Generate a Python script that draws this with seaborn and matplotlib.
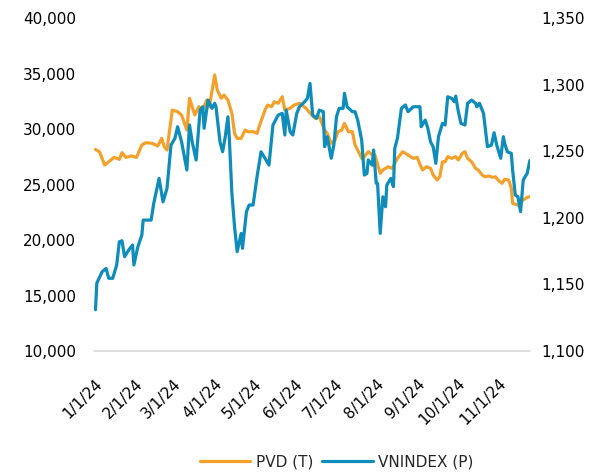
import numpy as np
import pandas as pd
import seaborn as sns
import matplotlib
matplotlib.use("Agg")
import matplotlib.pyplot as plt
import matplotlib.dates as mdates
from matplotlib.ticker import FuncFormatter

# PVD close price (left axis)
pvd_dates = ["2024-01-02", "2024-01-05", "2024-01-09", "2024-01-12", "2024-01-16", "2024-01-20",
             "2024-01-22", "2024-01-25", "2024-01-29", "2024-02-02", "2024-02-06", "2024-02-09",
             "2024-02-14", "2024-02-18", "2024-02-21", "2024-02-23", "2024-02-25", "2024-02-28",
             "2024-02-29", "2024-03-04", "2024-03-07", "2024-03-11", "2024-03-13", "2024-03-17",
             "2024-03-20", "2024-03-23", "2024-03-26", "2024-03-28", "2024-04-01", "2024-04-03",
             "2024-04-06", "2024-04-08", "2024-04-11", "2024-04-14", "2024-04-16", "2024-04-18",
             "2024-04-21", "2024-04-24", "2024-04-26", "2024-04-30", "2024-05-03", "2024-05-05",
             "2024-05-09", "2024-05-11", "2024-05-14", "2024-05-16", "2024-05-19", "2024-05-22",
             "2024-05-24", "2024-05-28", "2024-05-31", "2024-06-04", "2024-06-09", "2024-06-12",
             "2024-06-16", "2024-06-19", "2024-06-23", "2024-06-25", "2024-06-28", "2024-07-01",
             "2024-07-03", "2024-07-06", "2024-07-08", "2024-07-11", "2024-07-14", "2024-07-16",
             "2024-07-18", "2024-07-21", "2024-07-23", "2024-07-26", "2024-07-29", "2024-07-31",
             "2024-08-04", "2024-08-06", "2024-08-10", "2024-08-13", "2024-08-15", "2024-08-17",
             "2024-08-21", "2024-08-25", "2024-08-29", "2024-09-01", "2024-09-03", "2024-09-05",
             "2024-09-08", "2024-09-11", "2024-09-13", "2024-09-16", "2024-09-18", "2024-09-20",
             "2024-09-22", "2024-09-24", "2024-09-27", "2024-09-30", "2024-10-02", "2024-10-05",
             "2024-10-07", "2024-10-09", "2024-10-12", "2024-10-15", "2024-10-17", "2024-10-20",
             "2024-10-22", "2024-10-25", "2024-10-28", "2024-10-30", "2024-11-01", "2024-11-04",
             "2024-11-06", "2024-11-09", "2024-11-11", "2024-11-12", "2024-11-16", "2024-11-18",
             "2024-11-20", "2024-11-23", "2024-11-25"]
pvd_values = [28170, 27950, 26760, 27050, 27450, 27270,
              27870, 27450, 27570, 27450, 28560, 28770,
              28710, 28470, 29160, 28410, 28110, 30810,
              31710, 31560, 31260, 29910, 32770, 31260,
              32010, 31710, 32610, 32010, 34870, 33510,
              32770, 33060, 32610, 31420, 29610, 29160,
              29160, 29910, 29760, 29760, 29610, 30360,
              31710, 32160, 32010, 32460, 32320, 32910,
              31710, 31870, 32160, 32320, 31870, 31420,
              30960, 31110, 29910, 29610, 28710, 29010,
              29760, 29910, 30510, 29760, 29760, 28560,
              28110, 27360, 27510, 27960, 27660, 27660,
              26010, 26310, 26600, 26460, 26910, 27360,
              27960, 27660, 27360, 27450, 26800, 26310,
              26600, 26460, 25860, 25410, 25700, 27050,
              27050, 27510, 27360, 27510, 27210, 27810,
              27960, 27360, 27050, 26460, 26310, 25860,
              25700, 25770, 25650, 25700, 25410, 25110,
              25470, 25410, 24660, 23310, 23150, 23450,
              23600, 23850, 23900]

# VN-Index (right axis)
vni_dates = ["2024-01-02", "2024-01-03", "2024-01-07", "2024-01-10", "2024-01-12", "2024-01-15",
             "2024-01-18", "2024-01-20", "2024-01-22", "2024-01-24", "2024-01-27", "2024-01-30",
             "2024-01-31", "2024-02-03", "2024-02-06", "2024-02-07", "2024-02-13", "2024-02-15",
             "2024-02-19", "2024-02-22", "2024-02-25", "2024-02-28", "2024-03-02", "2024-03-04",
             "2024-03-07", "2024-03-11", "2024-03-13", "2024-03-15", "2024-03-18", "2024-03-21",
             "2024-03-23", "2024-03-24", "2024-03-27", "2024-03-30", "2024-04-01", "2024-04-02",
             "2024-04-05", "2024-04-07", "2024-04-09", "2024-04-11", "2024-04-12", "2024-04-14",
             "2024-04-16", "2024-04-18", "2024-04-21", "2024-04-22", "2024-04-25", "2024-04-27",
             "2024-04-30", "2024-05-03", "2024-05-06", "2024-05-09", "2024-05-12", "2024-05-15",
             "2024-05-19", "2024-05-22", "2024-05-24", "2024-05-25", "2024-05-28", "2024-05-30",
             "2024-06-02", "2024-06-04", "2024-06-08", "2024-06-10", "2024-06-12", "2024-06-14",
             "2024-06-17", "2024-06-19", "2024-06-22", "2024-06-23", "2024-06-25", "2024-06-28",
             "2024-06-30", "2024-07-02", "2024-07-04", "2024-07-07", "2024-07-08", "2024-07-10",
             "2024-07-14", "2024-07-16", "2024-07-18", "2024-07-21", "2024-07-23", "2024-07-25",
             "2024-07-26", "2024-07-29", "2024-07-30", "2024-08-01", "2024-08-02", "2024-08-04",
             "2024-08-06", "2024-08-08", "2024-08-09", "2024-08-12", "2024-08-14", "2024-08-15",
             "2024-08-17", "2024-08-20", "2024-08-23", "2024-08-25", "2024-08-29", "2024-09-01",
             "2024-09-03", "2024-09-04", "2024-09-07", "2024-09-09", "2024-09-11", "2024-09-13",
             "2024-09-15", "2024-09-17", "2024-09-20", "2024-09-22", "2024-09-24", "2024-09-27",
             "2024-09-29", "2024-09-30", "2024-10-02", "2024-10-04", "2024-10-07", "2024-10-09",
             "2024-10-12", "2024-10-15", "2024-10-16", "2024-10-18", "2024-10-21", "2024-10-24",
             "2024-10-27", "2024-10-29", "2024-10-31", "2024-11-03", "2024-11-05", "2024-11-06",
             "2024-11-08", "2024-11-11", "2024-11-12", "2024-11-14", "2024-11-16", "2024-11-18",
             "2024-11-20", "2024-11-23", "2024-11-25"]
vni_values = [1131, 1151, 1159.5, 1162, 1154.6, 1154.6,
              1164.6, 1182, 1182.8, 1170.8, 1175.8, 1179.6,
              1164.6, 1178.3, 1187, 1198.3, 1198.3, 1210.9,
              1229.6, 1212, 1222.1, 1254.6, 1259.7, 1268.4,
              1257.1, 1235.9, 1269.7, 1257.1, 1243.4, 1280.9,
              1283.4, 1267.2, 1288.4, 1282.2, 1286, 1283.4,
              1257.1, 1249.6, 1260.9, 1275.9, 1260.9, 1218.4,
              1193.3, 1174.6, 1188.3, 1177.1, 1204.6, 1209.6,
              1209.6, 1230.9, 1249.6, 1244.7, 1239.6, 1269.7,
              1277.2, 1278.4, 1262.2, 1280.9, 1264.6, 1262.2,
              1278.4, 1283.4, 1287.2, 1289.7, 1301, 1277.2,
              1274.7, 1280.9, 1279.7, 1253.4, 1260.9, 1244.7,
              1254.6, 1275.9, 1282.2, 1282.2, 1293.5, 1283.4,
              1279.7, 1279.7, 1273.4, 1258.4, 1232.1, 1233.4,
              1243.4, 1239.6, 1250.9, 1225.9, 1225.9, 1188.3,
              1215.8, 1208.3, 1224.6, 1229.6, 1223.4, 1252.2,
              1259.7, 1282.2, 1284.7, 1279.7, 1283.4, 1283.4,
              1283.4, 1268.4, 1273.4, 1267.2, 1257.1, 1253.4,
              1240.9, 1260.9, 1270.9, 1269.7, 1290.9, 1289.7,
              1287.2, 1291.4, 1279.7, 1270.9, 1269.7, 1286,
              1288.4, 1286, 1283.4, 1286, 1278.4, 1253.4,
              1254.6, 1263.9, 1254.6, 1244.7, 1260.9, 1255.9,
              1249.6, 1248.4, 1235.9, 1217.1, 1215.8, 1204.6,
              1228.4, 1233.4, 1243]

left_ticks = [10000, 15000, 20000, 25000, 30000, 35000, 40000]
right_ticks = [1100, 1150, 1200, 1250, 1300, 1350]

pvd_df = pd.DataFrame({"Date": pd.to_datetime(pvd_dates), "Value": pvd_values})
vni_df = pd.DataFrame({"Date": pd.to_datetime(vni_dates), "Value": vni_values})

sns.set_style("white")
plt.rcParams["font.family"] = ["DejaVu Sans"]
plt.rcParams["font.size"] = 11

fig, ax = plt.subplots(figsize=(5.96, 4.75), dpi=100)
fig.subplots_adjust(left=0.158, right=0.889, top=0.962, bottom=0.261)
ax2 = ax.twinx()

sns.lineplot(data=pvd_df, x="Date", y="Value", ax=ax, color="#F4A12B", linewidth=2.3, label="PVD (T)", legend=False)
sns.lineplot(data=vni_df, x="Date", y="Value", ax=ax2, color="#0E8CBA", linewidth=2.3, label="VNINDEX (P)", legend=False)

ax.set_ylim(10000, 40000)
ax.set_yticks(left_ticks)
ax.yaxis.set_major_formatter(FuncFormatter(lambda v, p: f"{v:,.0f}"))
ax2.set_ylim(1100, 1350)
ax2.set_yticks(right_ticks)
ax2.yaxis.set_major_formatter(FuncFormatter(lambda v, p: f"{v:,.0f}"))

ax.set_xlim(pd.Timestamp("2024-01-01"), pd.Timestamp("2024-11-25"))
ax.xaxis.set_major_locator(mdates.MonthLocator(bymonth=range(1, 12)))
ax.xaxis.set_major_formatter(FuncFormatter(
    lambda v, p: "{d.month}/{d.day}/{d:%y}".format(d=mdates.num2date(v))))
for lab in ax.get_xticklabels():
    lab.set_rotation(45)
    lab.set_ha("right")
    lab.set_rotation_mode("anchor")

ax.set_xlabel("")
ax.set_ylabel("")
ax2.set_ylabel("")
for a in (ax, ax2):
    for s in a.spines.values():
        s.set_visible(False)
    a.tick_params(length=0, colors="black", labelsize=11)
ax.spines["bottom"].set_visible(True)
ax.spines["bottom"].set_color("#D9D9D9")
ax.spines["bottom"].set_linewidth(1.2)
ax.tick_params(axis="y", pad=13)
ax.tick_params(axis="x", pad=18)
ax2.tick_params(axis="y", pad=8)

h1, l1 = ax.get_legend_handles_labels()
h2, l2 = ax2.get_legend_handles_labels()
fig.legend(h1 + h2, l1 + l2, loc="center", bbox_to_anchor=(0.565, 0.028), ncol=2, frameon=False,
           fontsize=11, handlelength=3.3, handletextpad=0.35, columnspacing=0.6)

fig.savefig("out.png", dpi=100)
